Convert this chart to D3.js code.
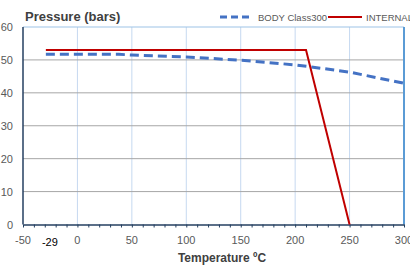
<!DOCTYPE html>
<html lang="en">
<head>
  <meta charset="UTF-8">
  <title>Pressure vs Temperature</title>
  <style>
    body { margin: 0; background: #fff; overflow: hidden; }
    text { font-family: "Liberation Sans", Arial, sans-serif; }
  </style>
</head>
<body>
  <svg width="410" height="266"></svg>
  <script src="https://d3js.org/d3.v7.min.js"></script>
  <script>
    // data
    var bodyTemps = [-29, 38, 50, 100, 150, 200, 250, 300];
    var bodyPress = [51.7, 51.7, 51.5, 50.9, 49.9, 48.5, 46.3, 42.9];
    var intTemps = [-29, 210, 250];
    var intPress = [53, 53, 0];
    var xTicks = [-50, 0, 50, 100, 150, 200, 250, 300];
    var yTicks = [0, 10, 20, 30, 40, 50, 60];
    var seriesNames = ["BODY Class300", "INTERNALS"];

    var svg = d3.select("svg");
    var plotL = 23, plotR = 404, plotT = 27, plotB = 224.5;

    var x = d3.scaleLinear().domain([-50, 300]).range([plotL, plotR]);
    var y = d3.scaleLinear().domain([0, 60]).range([plotB, plotT]);

    // vertical gridlines
    svg.append("g")
      .selectAll("line")
      .data(xTicks.slice(1, -1))
      .enter()
      .append("line")
      .attr("x1", function (d) { return x(d); })
      .attr("x2", function (d) { return x(d); })
      .attr("y1", plotT)
      .attr("y2", plotB)
      .style("stroke", "#c6d9f0")
      .style("stroke-width", 1);

    // horizontal gridlines
    svg.append("g")
      .selectAll("line")
      .data(yTicks.slice(1, -1))
      .enter()
      .append("line")
      .attr("x1", plotL)
      .attr("x2", plotR)
      .attr("y1", function (d) { return y(d); })
      .attr("y2", function (d) { return y(d); })
      .style("stroke", "#a6a6a6")
      .style("stroke-width", 1);

    // top + right border
    svg.append("line")
      .attr("x1", plotL).attr("x2", plotR)
      .attr("y1", y(60)).attr("y2", y(60))
      .style("stroke", "#9dc3e6").style("stroke-width", 1);
    svg.append("line")
      .attr("x1", x(300)).attr("x2", x(300))
      .attr("y1", plotT).attr("y2", plotB)
      .style("stroke", "#5b9bd5").style("stroke-width", 2);

    // x axis
    var xAxis = svg.append("g")
      .attr("transform", "translate(0," + plotB + ")")
      .call(d3.axisBottom(x).tickValues(d3.range(-50, 301, 10)).tickSize(3).tickSizeOuter(0).tickFormat(""));
    xAxis.select(".domain").style("stroke", "#243f60").style("stroke-width", 1.5);
    xAxis.selectAll(".tick line").style("stroke", "#243f60");

    svg.append("g")
      .selectAll("text")
      .data(xTicks)
      .enter()
      .append("text")
      .attr("x", function (d) { return x(d); })
      .attr("y", plotB + 19)
      .attr("text-anchor", "middle")
      .style("font-size", "11px")
      .style("fill", "#595959")
      .text(function (d) { return d; });

    svg.append("text")
      .attr("x", x(-29) + 4)
      .attr("y", plotB + 21)
      .attr("text-anchor", "middle")
      .style("font-size", "11px")
      .style("fill", "#000")
      .text("-29");

    // y axis
    svg.append("line")
      .attr("x1", plotL).attr("x2", plotL)
      .attr("y1", plotT).attr("y2", plotB)
      .style("stroke", "#243f60").style("stroke-width", 1.5);

    svg.append("g")
      .selectAll("text")
      .data(yTicks)
      .enter()
      .append("text")
      .attr("x", 13)
      .attr("y", function (d) { return y(d) + 4; })
      .attr("text-anchor", "end")
      .style("font-size", "11px")
      .style("fill", "#595959")
      .text(function (d) { return d; });

    // series
    var line = d3.line()
      .x(function (d) { return x(d[0]); })
      .y(function (d) { return y(d[1]); });

    svg.append("path")
      .datum(d3.zip(bodyTemps, bodyPress))
      .attr("d", line)
      .style("fill", "none")
      .style("stroke", "#4472c4")
      .style("stroke-width", 3)
      .style("stroke-dasharray", "9,5");

    svg.append("path")
      .datum(d3.zip(intTemps, intPress))
      .attr("d", line)
      .style("fill", "none")
      .style("stroke", "#c00000")
      .style("stroke-width", 2);

    // titles
    svg.append("text")
      .attr("x", 25)
      .attr("y", 21)
      .style("font-size", "13px")
      .style("font-weight", "bold")
      .style("fill", "#404040")
      .text("Pressure (bars)");

    svg.append("text")
      .attr("x", 222)
      .attr("y", 262)
      .attr("text-anchor", "middle")
      .style("font-size", "12px")
      .style("font-weight", "bold")
      .style("fill", "#404040")
      .text("Temperature ºC");

    // legend
    var legend = svg.append("g");
    legend.append("line")
      .attr("x1", 220).attr("x2", 251).attr("y1", 17).attr("y2", 17)
      .style("stroke", "#4472c4").style("stroke-width", 3).style("stroke-dasharray", "7,4");
    legend.append("text")
      .attr("x", 258).attr("y", 20.5)
      .style("font-size", "9.5px").style("fill", "#595959")
      .text(seriesNames[0]);
    legend.append("line")
      .attr("x1", 328).attr("x2", 362).attr("y1", 17).attr("y2", 17)
      .style("stroke", "#c00000").style("stroke-width", 2);
    legend.append("text")
      .attr("x", 366).attr("y", 20.5)
      .style("font-size", "9.5px").style("fill", "#595959")
      .text(seriesNames[1]);
  </script>
</body>
</html>
